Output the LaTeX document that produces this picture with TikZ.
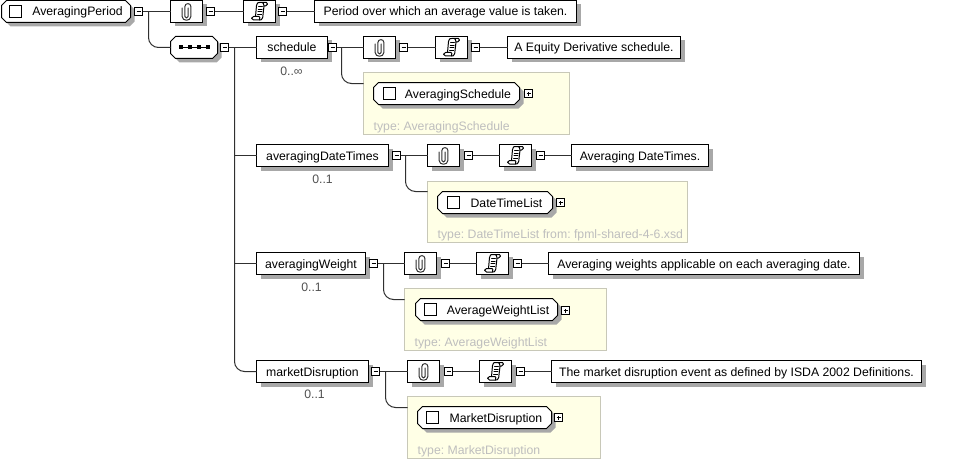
\documentclass[tikz,border=0pt]{standalone}
\usepackage{fontspec}
\setmainfont{Liberation Sans}
\usetikzlibrary{shadows}
\definecolor{shadowc}{HTML}{A8A8A8}
\definecolor{linec}{HTML}{303030}
\definecolor{yellowc}{HTML}{FFFFE6}
\definecolor{yborder}{HTML}{C8C8B8}
\definecolor{typec}{HTML}{BEBEBE}
\definecolor{occc}{HTML}{505050}
\tikzset{
  conn/.style={draw=linec,line width=1pt},
  basebox/.style={draw=black,fill=white,line width=1pt,inner sep=0pt,outer sep=0pt,
    text height=10pt,text depth=1pt,font=\fontsize{12.25}{14}\selectfont},
  rectbox/.style={basebox,rectangle,general shadow={shadow xshift=4pt,shadow yshift=-4pt,fill=shadowc,draw=none}},
  octtext/.style={basebox,rectangle,draw=none,fill=none},
  octline/.style={draw=black,fill=white,line width=1pt,line join=miter},
  octshadow/.style={fill=shadowc,draw=none},
  yellowbox/.style={rectangle,draw=yborder,fill=yellowc,line width=1pt,inner sep=0pt,outer sep=0pt},
  toggle/.style={rectangle,draw=black,fill=white,line width=1pt,minimum size=8pt,inner sep=0pt,outer sep=0pt},
  minusbox/.style={toggle,path picture={\draw[line width=1pt,black] ([xshift=2pt]path picture bounding box.west) -- ([xshift=-2pt]path picture bounding box.east);}},
  plusbox/.style={toggle,path picture={\draw[line width=1pt,black] ([xshift=2pt]path picture bounding box.west) -- ([xshift=-2pt]path picture bounding box.east) ([yshift=2pt]path picture bounding box.south) -- ([yshift=-2pt]path picture bounding box.north);}},
  occ/.style={font=\fontsize{12.25}{14}\selectfont,text=occc,inner sep=0pt},
  typetext/.style={font=\fontsize{12.25}{14}\selectfont,text=typec,inner sep=0pt,anchor=west},
  sq/.style={rectangle,draw=black,fill=white,line width=1pt,minimum size=12pt,inner sep=0pt,outer sep=0pt},
  icon/.style={line width=1pt,draw=black,line join=round,line cap=round},
}
% \bx{style}{name}{x0}{y0}{x1}{y1}{text}
\newcommand{\bx}[7]{%
  \pgfmathsetmacro{\cxx}{(#3+#5)/2}\pgfmathsetmacro{\cyy}{(#4+#6)/2}%
  \pgfmathsetmacro{\www}{#5-#3}\pgfmathsetmacro{\hhh}{#6-#4}%
  \node[#1,minimum width=\www pt,minimum height=\hhh pt] (#2) at (\cxx,\cyy) {#7};}
% \octa{name}{x0}{y0}{x1}{y1}{text}: octagon outline with its shadow, then the node
\newcommand{\octa}[6]{%
  \foreach \oo/\sty in {4/octshadow,0/octline}{%
    \path[\sty] (#2+5+\oo,#3+\oo) -- (#4-5+\oo,#3+\oo) -- (#4+\oo,#3+5+\oo) -- (#4+\oo,#5-5+\oo)
      -- (#4-5+\oo,#5+\oo) -- (#2+5+\oo,#5+\oo) -- (#2+\oo,#5-5+\oo) -- (#2+\oo,#3+5+\oo) -- cycle;}%
  \bx{octtext}{#1}{#2}{#3}{#4}{#5}{#6}}
\newcommand{\clipicon}[1]{%
  \begin{scope}[shift={(#1.center)}]
    \draw[icon,draw=linec] (1.6,-3.5) -- (1.6,5) .. controls (1.6,7) and (-1.6,7) .. (-1.6,5) -- (-1.6,-5)
      .. controls (-1.6,-8.8) and (4.4,-8.8) .. (4.4,-5) -- (4.4,5)
      .. controls (4.4,10) and (-4.4,10) .. (-4.4,5) -- (-4.4,-3.5);
  \end{scope}}
\newcommand{\scrollicon}[1]{%
  \begin{scope}[shift={(#1.center)}]
    \draw[icon,fill=white] (-3,-6) .. controls (-3,-9) and (-1,-9) .. (0,-9) -- (7,-9)
      .. controls (8.5,-9) and (8.5,-5.5) .. (6,-5.5) -- (4.5,-5.5) -- (3.2,6)
      .. controls (3,8.5) and (1,8.5) .. (0,8.5) -- (-6,8.5)
      .. controls (-8.5,8.5) and (-8.5,5) .. (-6,5) -- (-4,5) -- (-3,-6);
    \draw[icon] (4.5,-5.5) .. controls (4.5,-8) and (3.5,-9) .. (2.5,-9);
    \draw[icon] (-4,5) -- (-0.5,5) .. controls (0.5,5) and (0.5,7) .. (0,8.5);
    \draw[icon,line width=0.8pt] (-1,-5) -- (3,-5) (-1.3,-2.5) -- (2.7,-2.5) (-1.6,0) -- (2.4,0) (-1.9,2.5) -- (2.1,2.5);
  \end{scope}}
\newcommand{\seqicon}[1]{%
  \begin{scope}[shift={(#1.center)}]
    \draw[line width=1pt,black] (-15,0) -- (15,0);
    \foreach \q in {-13.5,-4.5,4.5,13.5} \fill[black] (\q-2,-2) rectangle (\q+2,2);
  \end{scope}}
% \annot{prefix}{unused}{cy}{clip x0}{m1}{doc x0}{m2}{desc x0}{desc x1}
\newcommand{\annot}[9]{%
  \pgfmathsetmacro{\ya}{#3-11}\pgfmathsetmacro{\yb}{#3+11}%
  \pgfmathsetmacro{\xc}{#4+32}\pgfmathsetmacro{\xd}{#6+32}%
  \bx{rectbox}{#1clip}{#4}{\ya}{\xc}{\yb}{}
  \clipicon{#1clip}
  \node[minusbox] (#1m1) at (#5,#3) {};
  \bx{rectbox}{#1doc}{#6}{\ya}{\xd}{\yb}{}
  \scrollicon{#1doc}
  \node[minusbox] (#1m2) at (#7,#3) {};
  \bx{rectbox}{#1desc}{#8}{\ya}{#9}{\yb}{\descriptiontext}
  \draw[conn] (#1m0.east) -- (#1clip.west);
  \draw[conn] (#1m1.east) -- (#1doc.west);
  \draw[conn] (#1m2.east) -- (#1desc.west);
}
\newcommand{\descriptiontext}{}
\begin{document}
\frenchspacing
\begin{tikzpicture}[x=1pt,y=-1pt]
\useasboundingbox (0,0) rectangle (963,460);
\fill[white] (0,0) rectangle (963,460);
\begin{scope}[shift={(0.5,0.5)}]

% root
\octa{root}{1}{0}{130}{22}{\hspace*{23pt}AveragingPeriod}
\node[sq] (rootsq) at (15,11) {};
\node[minusbox] (rm0) at (138,11) {};
\renewcommand{\descriptiontext}{Period over which an average value is taken.}
\annot{r}{}{11}{170}{210}{243}{282}{314}{576}

% sequence
\octa{seq}{170}{36}{217}{58}{}
\seqicon{seq}
\node[minusbox] (seqm) at (224,47) {};
\coordinate (rbranch) at (148,11);
\draw[conn,rounded corners=10pt] (rbranch) |- (seq.west);

% schedule
\bx{rectbox}{sched}{256}{36}{327}{58}{schedule}
\node[occ] (schedocc) at (291,71) {0..∞};
\node[minusbox] (am0) at (332,47) {};
\renewcommand{\descriptiontext}{A Equity Derivative schedule.}
\annot{a}{}{47}{363}{403}{435}{475}{507}{680}
\node[yellowbox,minimum width=206pt,minimum height=62pt] (ay) at (466,103) {};
\coordinate (aentry) at (363,83);
\coordinate (abranch) at (341,47);
\draw[conn,rounded corners=10pt] (abranch) |- (aentry);
\octa{ael}{373}{82}{519}{104}{\hspace*{23pt}AveragingSchedule}
\node[sq] (aelsq) at (389,93) {};
\node[plusbox] (aelp) at (528,93) {};
\node[typetext] (atype) at (373,127) {type: AveragingSchedule};

% averagingDateTimes
\bx{rectbox}{dt}{256}{144}{388}{166}{averagingDateTimes}
\node[occ] (dtocc) at (322,179) {0..1};
\node[minusbox] (bm0) at (396,155) {};
\renewcommand{\descriptiontext}{Averaging DateTimes.}
\annot{b}{}{155}{427}{468}{499}{540}{571}{708}
\node[yellowbox,minimum width=260pt,minimum height=61pt] (by) at (557,211.5) {};
\coordinate (bentry) at (427,191);
\coordinate (bbranch) at (405,155);
\draw[conn,rounded corners=10pt] (bbranch) |- (bentry);
\octa{bel}{437}{191}{552}{213}{\hspace*{23pt}DateTimeList}
\node[sq] (belsq) at (453,202) {};
\node[plusbox] (belp) at (560,202) {};
\node[typetext] (btype) at (437,235) {type: DateTimeList from: fpml-shared-4-6.xsd};

% averagingWeight
\bx{rectbox}{wt}{256}{252}{365}{274}{averagingWeight}
\node[occ] (wtocc) at (311,287) {0..1};
\node[minusbox] (cm0) at (373,263) {};
\renewcommand{\descriptiontext}{Averaging weights applicable on each averaging date.}
\annot{c}{}{263}{404}{445}{476}{517}{548}{859}
\node[yellowbox,minimum width=202pt,minimum height=62pt] (cy) at (505,319) {};
\coordinate (centry) at (404,299);
\coordinate (cbranch) at (383,263);
\draw[conn,rounded corners=10pt] (cbranch) |- (centry);
\octa{cel}{415}{298}{557}{320}{\hspace*{23pt}AverageWeightList}
\node[sq] (celsq) at (430,309) {};
\node[plusbox] (celp) at (565,310) {};
\node[typetext] (ctype) at (414,343) {type: AverageWeightList};

% marketDisruption
\bx{rectbox}{md}{256}{360}{368}{382}{marketDisruption}
\node[occ] (mdocc) at (314,394) {0..1};
\node[minusbox] (dm0) at (375,371) {};
\renewcommand{\descriptiontext}{The market disruption event as defined by ISDA 2002 Definitions.}
\annot{d}{}{371}{407}{448}{479}{520}{551}{921}
\node[yellowbox,minimum width=193pt,minimum height=62pt] (dy) at (503.5,427) {};
\coordinate (dentry) at (407,407);
\coordinate (dbranch) at (385,371);
\draw[conn,rounded corners=10pt] (dbranch) |- (dentry);
\octa{del}{417}{406}{551}{428}{\hspace*{23pt}MarketDisruption}
\node[sq] (delsq) at (432,417) {};
\node[plusbox] (delp) at (558,417) {};
\node[typetext] (dtype) at (417,451) {type: MarketDisruption};

% trunk
\coordinate (trunk) at (234,47);
\draw[conn] (seqm.east) -- (sched.west);
\draw[conn] (trunk) |- (dt.west);
\draw[conn] (trunk) |- (wt.west);
\draw[conn,rounded corners=10pt] (trunk) |- (md.west);
\end{scope}
\end{tikzpicture}
\end{document}
